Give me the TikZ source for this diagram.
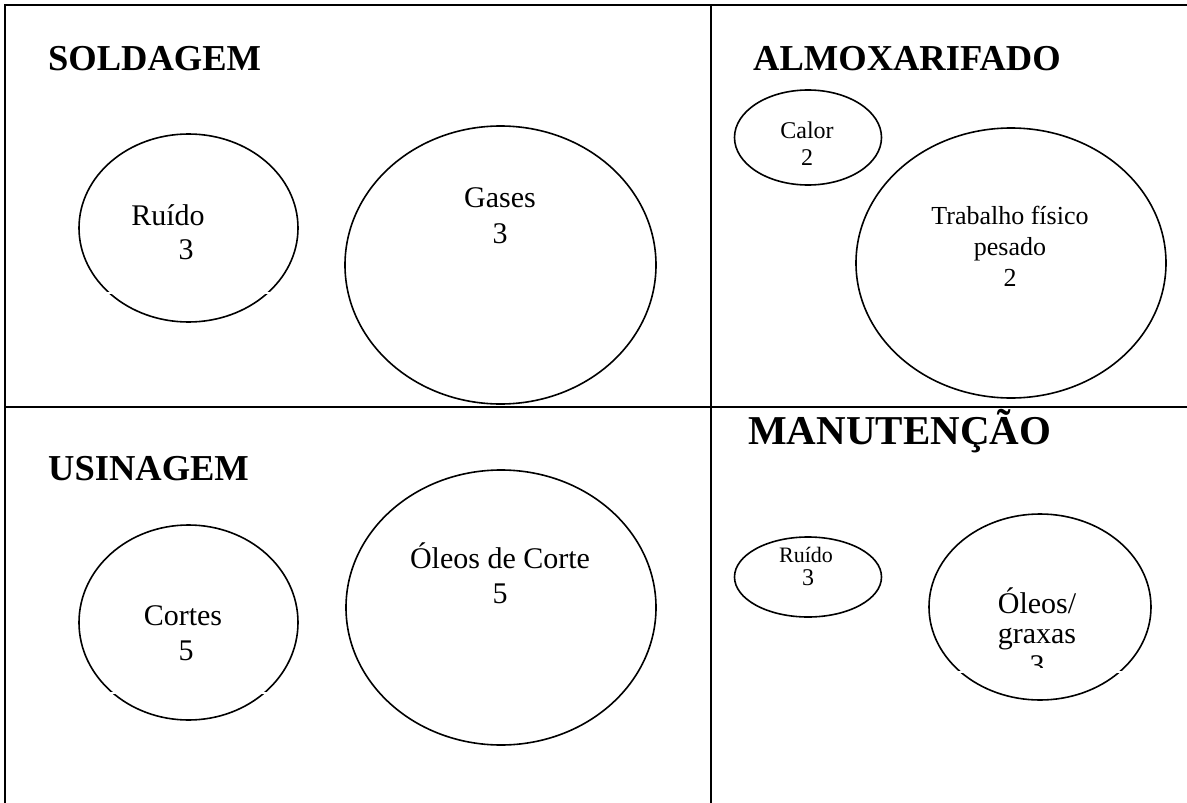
\documentclass[tikz,border=0pt]{standalone}
\usepackage{fontspec}
\setmainfont{Liberation Serif}
\usetikzlibrary{shapes.geometric}
\tikzset{
  frame/.style={line width=1.8pt, line cap=rect},
  blob/.style={draw, ellipse, line width=1.6pt, inner sep=0pt},
  title/.style={anchor=base west, inner sep=0pt, font=\fontsize{36.5}{40}\selectfont\bfseries},
  big/.style={anchor=base, inner sep=0pt, font=\fontsize{30}{34}\selectfont},
  mid/.style={anchor=base, inner sep=0pt, font=\fontsize{26}{30}\selectfont},
  small/.style={anchor=base, inner sep=0pt, font=\fontsize{24}{28}\selectfont},
  tiny/.style={anchor=base, inner sep=0pt, font=\fontsize{22}{26}\selectfont},
  gap/.style={white, line width=2.5pt}
}
\begin{document}
\begin{tikzpicture}[x=1pt,y=-1pt]
\useasboundingbox (0,0) rectangle (1187,803);
% frame
\coordinate (tl) at (5,5);
\coordinate (tr) at (1187,5);
\coordinate (bl) at (5,803);
\coordinate (ml) at (5,407);
\coordinate (mr) at (1187,407);
\coordinate (vt) at (711,5);
\coordinate (vb) at (711,803);
\draw[frame] (tr) -- (tl) -- (bl);
\draw[frame] (ml) -- (mr);
\draw[frame] (vt) -- (vb);
% titles
\node[title] (soldagem) at (48,70) {SOLDAGEM};
\node[title] (almox) at (753,70) {ALMOXARIFADO};
\node[title] (usinagem) at (48,480) {USINAGEM};
\node[title, font=\fontsize{41}{44}\selectfont\bfseries] (manut) at (748,444) {MANUTENÇÃO};
% ellipses
\node[blob, minimum width=219pt, minimum height=188pt] (e1) at (188.5,228) {};
\node[blob, minimum width=311pt, minimum height=278pt] (e2) at (500.5,265) {};
\node[blob, minimum width=147pt, minimum height=95pt] (e3) at (808,137.5) {};
\node[blob, minimum width=310pt, minimum height=270pt] (e4) at (1011,263) {};
\node[blob, minimum width=219pt, minimum height=195pt] (e5) at (188.5,622.5) {};
\node[blob, minimum width=310pt, minimum height=275pt] (e6) at (501,607.5) {};
\node[blob, minimum width=147pt, minimum height=80pt] (e7) at (808,577) {};
\node[blob, minimum width=222pt, minimum height=186pt] (e8) at (1040,607) {};
% gaps where text boxes cut the ellipses
\draw[gap] (95,293) -- (280,293);
\draw[gap] (95,693) -- (282,693);
\draw[gap] (945,672) -- (1135,672);
% texts
\node[big] (r1) at (168,225) {Ruído};
\node[big] (r1n) at (186,259) {3};
\node[big] (g1) at (500,207) {Gases};
\node[big] (g1n) at (500,243) {3};
\node[small] (c1) at (807,138) {Calor};
\node[small] (c1n) at (807,165) {2};
\node[mid] (t1) at (1010,224) {Trabalho físico};
\node[mid] (t1b) at (1010,255) {pesado};
\node[mid] (t1n) at (1010,286) {2};
\node[big] (co) at (183,625) {Cortes};
\node[big] (con) at (186,660) {5};
\node[big] (oc) at (500,568) {Óleos de Corte};
\node[big] (ocn) at (500,603) {5};
\node[tiny] (r2) at (806,562) {Ruído};
\node[small] (r2n) at (808,585) {3};
\node[big] (og) at (1037,613) {Óleos/};
\node[big] (og2) at (1037,643) {graxas};
\begin{scope}
\clip (940,648) rectangle (1135,667);
\node[big] (og3) at (1037,675) {3};
\end{scope}
\end{tikzpicture}
\end{document}
